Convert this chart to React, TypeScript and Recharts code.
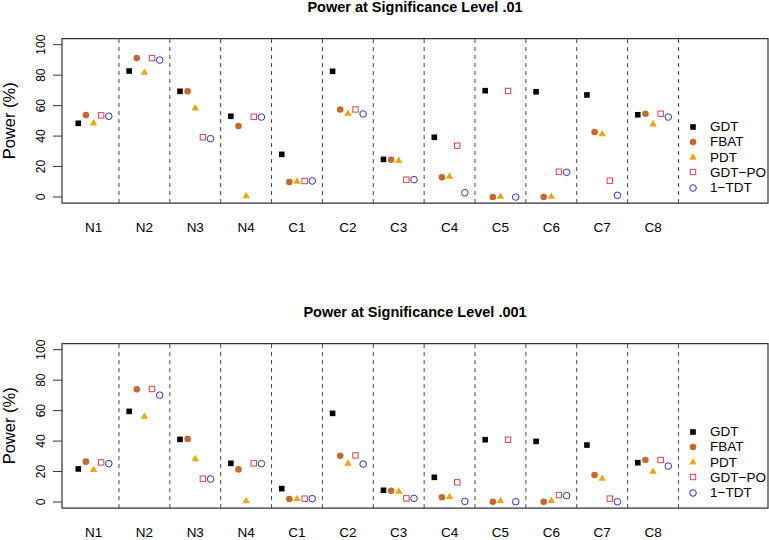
import React from "react";
import {
  ScatterChart,
  Scatter,
  XAxis,
  YAxis,
  ReferenceLine,
  ReferenceArea,
  Legend,
} from "recharts";

// category labels along the x axis
const groups = ["N1", "N2", "N3", "N4", "C1", "C2", "C3", "C4", "C5", "C6", "C7", "C8"];

// power (%) at significance level .01
const gdt01 = [48.4, 82.7, 69.4, 53.0, 28.0, 82.5, 24.7, 39.2, 69.8, 69.1, 67.0, 54.0];
const fbat01 = [53.8, 91.2, 69.4, 46.6, 9.8, 57.5, 24.5, 12.9, 0, 0, 42.7, 54.7];
const pdt01 = [48.6, 81.8, 58.4, 0.7, 10.3, 54.9, 23.9, 13.6, 0.4, 0.4, 41.4, 47.9];
const gdtpo01 = [53.6, 91.2, 39.2, 52.7, 10.5, 57.5, 11.4, 33.7, 69.6, 16.6, 10.7, 54.7];
const tdt01 = [53.0, 89.9, 38.3, 52.5, 10.5, 54.5, 11.4, 2.8, 0, 16.2, 1.1, 52.5];

// power (%) at significance level .001
const gdt001 = [21.7, 59.5, 41.1, 25.4, 8.8, 58.2, 7.7, 16.2, 40.9, 39.8, 37.4, 25.8];
const fbat001 = [26.5, 74.0, 41.4, 21.4, 2.0, 30.4, 7.4, 3.1, 0.2, 0.2, 17.7, 27.6];
const pdt001 = [21.2, 56.2, 28.4, 0.7, 2.2, 25.4, 7.0, 3.5, 0.9, 0.9, 15.5, 20.1];
const gdtpo001 = [26.0, 74.2, 15.3, 25.4, 2.2, 30.6, 2.4, 12.9, 40.9, 4.6, 2.2, 27.6];
const tdt001 = [25.2, 70.2, 15.1, 25.2, 2.2, 24.9, 2.4, 0.4, 0.2, 4.2, 0.2, 23.6];

const yTicks = [0, 20, 40, 60, 80, 100];

type Kind = "square" | "dot" | "triangle" | "openSquare" | "openCircle";

const series: { name: string; color: string; kind: Kind; shift: number }[] = [
  { name: "GDT", color: "#000000", kind: "square", shift: -0.3 },
  { name: "FBAT", color: "#C8692B", kind: "dot", shift: -0.15 },
  { name: "PDT", color: "#F0A30A", kind: "triangle", shift: 0 },
  { name: "GDT\u2212PO", color: "#D9404F", kind: "openSquare", shift: 0.15 },
  { name: "1\u2212TDT", color: "#2E2EC8", kind: "openCircle", shift: 0.3 },
];

const FONT = '"Liberation Sans", Arial, Helvetica, sans-serif';

function Marker({ kind, color, cx, cy }: { kind: Kind; color: string; cx: number; cy: number }) {
  if (cx == null || cy == null) return null;
  switch (kind) {
    case "square":
      return <rect x={cx - 2.8} y={cy - 2.8} width={5.6} height={5.6} fill={color} />;
    case "dot":
      return <circle cx={cx} cy={cy} r={3.3} fill={color} />;
    case "triangle":
      return (
        <polygon
          points={`${cx},${cy - 4} ${cx - 3.7},${cy + 2.4} ${cx + 3.7},${cy + 2.4}`}
          fill={color}
        />
      );
    case "openSquare":
      return (
        <rect x={cx - 2.7} y={cy - 2.7} width={5.4} height={5.4} fill="none" stroke={color} strokeWidth={1} />
      );
    default:
      return <circle cx={cx} cy={cy} r={3.3} fill="none" stroke={color} strokeWidth={1} />;
  }
}

function LegendBox() {
  return (
    <div style={{ fontFamily: FONT, fontSize: 13.5, color: "#000" }}>
      {series.map((s) => (
        <div key={s.name} style={{ display: "flex", alignItems: "center", height: 15.25 }}>
          <svg width={16} height={12} style={{ marginRight: 8 }}>
            <Marker kind={s.kind} color={s.color} cx={7} cy={6} />
          </svg>
          <span>{s.name}</span>
        </div>
      ))}
    </div>
  );
}

const renderXTick = (props: any) => {
  const { x, y, payload } = props;
  return (
    <text x={x} y={y + 28.5} textAnchor="middle" fontSize={13.5} fill="#000" fontFamily={FONT}>
      {groups[payload.value - 1]}
    </text>
  );
};

// R draws y tick labels parallel to the axis
const renderYTick = (props: any) => {
  const { x, y, payload } = props;
  const cx = Number(x) - 10.5;
  const cy = Number(y);
  return (
    <text
      x={cx}
      y={cy}
      transform={`rotate(-90, ${cx}, ${cy})`}
      textAnchor="middle"
      dy="0.35em"
      fontSize={12}
      fill="#000"
      fontFamily={FONT}
    >
      {String(payload.value)}
    </text>
  );
};

const X_MIN = 0.38;
const X_MAX = 14.26;

function Panel({ title, values, top }: { title: string; values: number[][]; top: number }) {
  return (
    <div style={{ position: "absolute", left: 0, top, width: 769, height: 235 }}>
      <div
        style={{
          position: "absolute",
          left: 62,
          width: 706,
          top: -1,
          textAlign: "center",
          fontFamily: FONT,
          fontWeight: "bold",
          fontSize: 14.5,
        }}
      >
        {title}
      </div>
      <ScatterChart width={769} height={235} margin={{ top: 38.6, right: 1, bottom: 0, left: 0 }}>
        <XAxis
          type="number"
          dataKey="x"
          domain={[X_MIN, X_MAX]}
          allowDataOverflow
          ticks={groups.map((_, i) => i + 1)}
          tick={renderXTick}
          tickLine={false}
          axisLine={false}
          tickSize={0}
          tickMargin={0}
          height={31.9}
          interval={0}
        />
        <YAxis
          type="number"
          dataKey="y"
          domain={[-4, 104]}
          allowDataOverflow
          ticks={yTicks}
          tick={renderYTick}
          tickSize={9}
          tickMargin={2}
          tickLine={{ stroke: "#333" }}
          axisLine={false}
          width={62}
          interval={0}
          label={{
            content: (p: any) => {
              const vb = p.viewBox;
              const cy = vb.y + vb.height / 2;
              return (
                <g transform={`translate(9,${cy}) rotate(-90)`}>
                  <text
                    x={0}
                    y={0}
                    textAnchor="middle"
                    dominantBaseline="central"
                    fontSize={16.5}
                    fontFamily={FONT}
                    fill="#000"
                  >
                    Power (%)
                  </text>
                </g>
              );
            },
          }}
        />
        <ReferenceArea
          x1={X_MIN}
          x2={X_MAX}
          y1={-4}
          y2={104}
          fill="none"
          fillOpacity={0}
          stroke="#333"
          strokeWidth={1.2}
          ifOverflow="visible"
        />
        {groups.map((g, i) => (
          <ReferenceLine
            key={g}
            x={i + 1.5}
            stroke="#444"
            strokeDasharray="4 4"
            strokeWidth={1}
          />
        ))}
        {series.map((s, k) => (
          <Scatter
            key={s.name}
            name={s.name}
            data={values[k].map((v, i) => ({ x: i + 1 + s.shift, y: v }))}
            isAnimationActive={false}
            shape={(p: any) => <Marker kind={s.kind} color={s.color} cx={p.cx} cy={p.cy} />}
          />
        ))}
        <Legend
          layout="vertical"
          align="center"
          verticalAlign="middle"
          content={() => <LegendBox />}
          wrapperStyle={{ position: "absolute", left: 686, top: 119, width: 80, height: 80 }}
        />
      </ScatterChart>
    </div>
  );
}

export default function App() {
  return (
    <div
      style={{
        position: "absolute",
        left: 0,
        top: 0,
        width: 769,
        height: 540,
        background: "#fff",
        overflow: "hidden",
      }}
    >
      <Panel
        title="Power at Significance Level .01"
        values={[gdt01, fbat01, pdt01, gdtpo01, tdt01]}
        top={0}
      />
      <Panel
        title="Power at Significance Level .001"
        values={[gdt001, fbat001, pdt001, gdtpo001, tdt001]}
        top={305}
      />
    </div>
  );
}
